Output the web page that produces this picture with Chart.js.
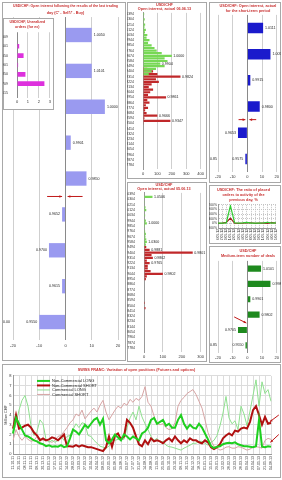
<!DOCTYPE html>
<html>
<head>
<meta charset="utf-8">
<script src="https://cdn.jsdelivr.net/npm/chart.js@4.4.0/dist/chart.umd.min.js"></script>
<style>
  body { margin: 0; background: #fff; }
  #page { position: relative; width: 282px; height: 480px; overflow: hidden; background: #fff; }
  .box { position: absolute; box-sizing: border-box; border: 1px solid #a8a8a8; background: #fff; }
  canvas { position: absolute; }
</style>
</head>
<body>
<div id="page">
  <div class="box" style="left:2px;top:2px;width:124px;height:359px"></div>
  <div class="box" style="left:127px;top:2px;width:80px;height:177px"></div>
  <div class="box" style="left:127px;top:182px;width:80px;height:180px"></div>
  <div class="box" style="left:209px;top:2px;width:72px;height:181px"></div>
  <div class="box" style="left:209px;top:185px;width:72px;height:59px"></div>
  <div class="box" style="left:209px;top:246px;width:72px;height:117px"></div>
  <div class="box" style="left:2px;top:364px;width:279px;height:114px"></div>
  <canvas id="p1" width="123" height="359" style="left:2px;top:2px"></canvas>
  <div class="box" style="left:3px;top:18px;width:51px;height:92px"></div>
  <canvas id="inset" width="50" height="92" style="left:3px;top:18px"></canvas>
  <canvas id="p2" width="79" height="176" style="left:127px;top:2px"></canvas>
  <canvas id="p3" width="79" height="180" style="left:127px;top:182px"></canvas>
  <canvas id="p4" width="72" height="180" style="left:209px;top:2px"></canvas>
  <canvas id="p5" width="72" height="58" style="left:209px;top:185px"></canvas>
  <canvas id="p6" width="72" height="117" style="left:209px;top:246px"></canvas>
  <canvas id="p7" width="278" height="114" style="left:2px;top:364px"></canvas>
</div>
<script>
// --- data ---
const p1Levels = ['1.0050', '1.0101', '1.0000', '0.9901', '0.9850', '0.9652', '0.9700', '0.9615', '0.9550']
const p1Values = [10, 10, 15, 2, 8, -1.3, -6.3, -1.3, -10]

const insetLevels = ['1.0009', '1.0101', '1.0050', '0.9901', '0.9850', '0.9709', '0.9615']
const insetValues = [0, 0.2, 0.6, 0.1, 0.77, 2.5, 0]

const priceGrid = ['1.0394', '1.0349', '1.0304', '1.0259', '1.0214', '1.0169', '1.0124', '1.0079', '1.0034', '0.9989',
    '0.9944', '0.9899', '0.9854', '0.9809', '0.9764', '0.9719', '0.9674', '0.9629', '0.9584', '0.9539',
    '0.9494', '0.9449', '0.9404', '0.9359', '0.9314', '0.9269', '0.9224', '0.9179', '0.9134', '0.9089',
    '0.9044', '0.8999', '0.8954', '0.8909', '0.8864', '0.8819', '0.8774', '0.8729', '0.8684', '0.8639',
    '0.8594', '0.8549', '0.8504', '0.8459', '0.8414', '0.8369', '0.8324', '0.8279', '0.8234', '0.8189',
    '0.8144', '0.8099', '0.8054', '0.8009', '0.7964', '0.7919', '0.7874', '0.7829', '0.7784', '0.7739']

const p2Buy = [8, 5, 12, 6, 15, 10, 20, 14, 30, 25, 45, 35, 60, 80, 95, 130, 200, 150, 170, 120,
    150, 90, 60, 40, 0, 0, 0, 0, 0, 0, 0, 0, 0, 0, 0, 0, 0, 0, 0, 0,
    0, 0, 0, 0, 0, 0, 0, 0, 0, 0, 0, 0, 0, 0, 0, 0, 0, 0, 0, 0]
const p2Sell = [0, 0, 0, 0, 0, 0, 0, 0, 0, 0, 0, 0, 0, 0, 0, 0, 0, 0, 0, 0,
    0, 30, 70, 100, 260, 90, 110, 60, 40, 70, 50, 35, 160, 30, 45, 20, 35, 15, 25, 100,
    10, 190, 5, 0, 0, 0, 0, 0, 0, 0, 0, 0, 0, 0, 0, 0, 0, 0, 0, 0]
const p2Notes = [[16, '1.0000'], [19, '0.9904'], [24, '0.9824'], [32, '0.9861'], [39, '0.9666'], [41, '0.9347']]

const p3Buy = [0, 45, 0, 4, 0, 8, 12, 0, 6, 0, 10, 15, 5, 0, 6, 10, 8, 12, 15, 10,
    0, 0, 0, 0, 0, 0, 0, 0, 0, 0, 0, 0, 0, 0, 0, 0, 0, 0, 0, 0,
    0, 0, 0, 0, 0, 0, 0, 0, 0, 0, 0, 0, 0, 0, 0, 0, 0, 0, 0, 0]
const p3Sell = [0, 0, 0, 0, 0, 0, 0, 0, 0, 0, 0, 0, 0, 0, 0, 0, 0, 0, 0, 0,
    12, 30, 258, 40, 47, 15, 30, 20, 20, 35, 100, 15, 10, 0, 0, 0, 0, 0, 0, 0,
    0, 5, 0, 8, 0, 0, 0, 0, 0, 0, 0, 0, 0, 0, 0, 0, 0, 0, 0, 0]
const p3Notes = [[1, '1.0506'], [11, '1.0000'], [18, '1.0300'], [21, '0.9881'], [22, '0.9801'], [24, '0.9862'], [26, '0.9765'], [30, '0.9802']]

const p4Levels = ['1.0111', '1.0050', '0.9915', '0.9800', '0.9653', '0.9575']
const p4Values = [10.7, 15.7, 2, 8.4, -6.4, -1.4]

const p5Days = ['16.05.13', '17.05.13', '20.05.13', '21.05.13', '22.05.13', '23.05.13', '24.05.13', '27.05.13',
    '28.05.13', '29.05.13', '30.05.13', '31.05.13', '03.06.13', '04.06.13', '05.06.13']
const p5Placed = [20, 10, 30, 1150, 40, 20, 30, 60, 10, 20, 10, 30, 70, 20, 30]
const p5Previous = [0, 10, 60, 340, 20, 0, 10, 30, 40, 0, 10, 20, 0, 50, 10]

const p6Levels = ['1.0101', '0.9981', '0.9901', '0.9802', '0.9705', '0.9550']
const p6Values = [9.3, 15.7, 2, 8.3, -6.4, -1.3]

const cotDates = ['11.10.11', '18.10.11', '25.10.11', '01.11.11', '08.11.11', '15.11.11', '22.11.11', '29.11.11', '06.12.11', '13.12.11',
    '20.12.11', '27.12.11', '03.01.12', '10.01.12', '17.01.12', '24.01.12', '31.01.12', '07.02.12', '14.02.12', '21.02.12',
    '28.02.12', '06.03.12', '13.03.12', '20.03.12', '27.03.12', '03.04.12', '10.04.12', '17.04.12', '24.04.12', '01.05.12',
    '08.05.12', '15.05.12', '22.05.12', '29.05.12', '05.06.12', '12.06.12', '19.06.12', '26.06.12', '03.07.12', '10.07.12',
    '17.07.12', '24.07.12', '31.07.12', '07.08.12', '14.08.12', '21.08.12', '28.08.12', '04.09.12', '11.09.12', '18.09.12',
    '25.09.12', '02.10.12', '09.10.12', '16.10.12', '23.10.12', '30.10.12', '06.11.12', '13.11.12', '20.11.12', '27.11.12',
    '04.12.12', '11.12.12', '18.12.12', '25.12.12', '01.01.13', '08.01.13', '15.01.13', '22.01.13', '29.01.13', '05.02.13',
    '12.02.13', '19.02.13', '26.02.13', '05.03.13', '12.03.13', '19.03.13', '26.03.13', '02.04.13', '09.04.13', '16.04.13',
    '23.04.13', '30.04.13', '07.05.13', '14.05.13', '21.05.13', '28.05.13', '04.06.13']
const nonCommLong = [2.1, 3.7, 3.1, 2.5, 1.9, 1.8, 1.6, 1.4, 1.3, 1.1,
    1.0, 0.8, 0.9, 0.75, 0.8, 0.75, 0.9, 0.7, 0.8, 1.6,
    2.5, 2.3, 2.0, 2.5, 3.0, 2.7, 3.1, 3.5, 3.7, 3.0,
    3.6, 1.4, 1.1, 1.5, 2.0, 1.7, 1.4, 2.0, 1.8, 1.5,
    1.8, 1.6, 1.4, 2.1, 2.3, 2.7, 3.5, 3.7, 3.1, 3.3,
    3.5, 2.9, 3.1, 2.7, 2.7, 3.5, 4.0, 3.1, 2.6, 3.0,
    2.7, 2.6, 3.1, 2.7, 2.1, 1.5, 0.8, 0.6, 0.75, 0.8,
    1.0, 1.1, 1.15, 1.1, 1.2, 1.0, 0.9, 0.8, 0.8, 0.75,
    0.7, 0.8, 3.5, 0.75, 0.7, 0.8, 0.75]
const nonCommShort = [2.6, 4.0, 2.6, 2.7, 2.9, 3.0, 2.7, 2.2, 1.9, 1.4,
    1.6, 1.4, 1.5, 1.7, 1.6, 1.4, 1.7, 2.0, 0.8, 0.8,
    0.75, 0.9, 0.75, 0.9, 0.8, 0.7, 0.7, 0.6, 0.5, 0.4,
    0.3, 0.7, 1.8, 0.75, 1.9, 2.1, 1.5, 1.8, 3.5, 3.2,
    2.7, 1.8, 1.0, 0.8, 1.4, 1.0, 1.6, 1.3, 1.4, 1.3,
    1.1, 1.4, 1.6, 1.3, 1.8, 1.4, 1.1, 1.4, 1.2, 1.6,
    1.4, 1.4, 1.2, 1.1, 1.4, 1.2, 0.7, 0.5, 0.7, 1.0,
    1.6, 1.9, 2.1, 1.9, 2.4, 2.3, 2.6, 2.7, 2.6, 3.3,
    4.5, 4.9, 4.0, 3.0, 3.8, 3.1, 3.2]
const commLong = [2.1, 3.1, 4.5, 5.5, 6.0, 4.9, 2.9, 1.9, 2.3, 3.5,
    3.1, 1.5, 1.2, 1.4, 1.2, 1.4, 1.8, 1.4, 1.8, 1.9,
    2.5, 3.1, 2.7, 3.2, 3.1, 1.9, 1.8, 1.4, 1.1, 0.8,
    0.7, 0.6, 0.8, 1.4, 1.4, 1.5, 1.6, 1.5, 2.7, 3.7,
    4.3, 3.5, 4.9, 3.8, 3.1, 2.5, 1.8, 1.4, 1.6, 1.2,
    1.3, 0.9, 0.75, 0.7, 0.6, 0.5, 0.4, 0.6, 0.75, 0.9,
    1.1, 1.1, 1.3, 1.3, 1.1, 0.9, 1.2, 1.4, 1.9, 2.9,
    4.2, 5.9, 3.7, 3.1, 3.4, 2.5, 4.9, 4.1, 2.9, 4.4,
    6.0, 7.6, 4.9, 7.4, 6.2, 6.6, 5.4]
const commShort = [1.4, 2.5, 1.8, 1.4, 1.8, 1.5, 1.3, 1.4, 1.8, 1.6,
    1.4, 1.4, 1.3, 1.2, 1.4, 1.8, 1.9, 2.3, 2.7, 3.2,
    3.5, 4.1, 3.9, 4.5, 3.6, 4.0, 4.4, 4.7, 4.3, 5.0,
    5.5, 4.3, 3.5, 4.0, 4.5, 4.9, 4.7, 5.2, 5.0, 5.6,
    5.3, 5.7, 5.5, 5.9, 6.9, 5.3, 4.9, 3.9, 3.1, 3.0,
    3.1, 2.7, 2.5, 2.6, 3.2, 4.9, 5.5, 5.8, 6.2, 6.4,
    6.6, 6.1, 5.4, 4.7, 3.5, 2.2, 1.4, 0.8, 0.6, 0.4,
    0.5, 0.7, 0.75, 0.6, 0.6, 0.75, 0.7, 0.55, 0.4, 0.5,
    0.7, 0.75, 0.7, 0.6, 1.4, 1.6, 1.5]

// --- common look ---
const FONT = '"Liberation Sans", Arial, sans-serif'
const TITLE_RED = '#c83030'
Chart.defaults.font.family = FONT
Chart.defaults.font.size = 4
Chart.defaults.color = '#333'
Chart.defaults.animation = false
Chart.defaults.responsive = false
Chart.defaults.devicePixelRatio = 1
Chart.defaults.plugins.legend.display = false
Chart.defaults.plugins.tooltip.enabled = false

const zeroGrid = c => (c.tick && c.tick.value === 0) ? '#8a8a8a' : '#cfcfcf'

function arrow(ctx, x0, y0, x1, y1) {
    const a = Math.atan2(y1 - y0, x1 - x0), h = 3
    ctx.beginPath(); ctx.moveTo(x0, y0); ctx.lineTo(x1, y1); ctx.stroke()
    ctx.beginPath(); ctx.moveTo(x1, y1)
    ctx.lineTo(x1 - h * Math.cos(a - 0.45), y1 - h * Math.sin(a - 0.45))
    ctx.lineTo(x1 - h * Math.cos(a + 0.45), y1 - h * Math.sin(a + 0.45))
    ctx.closePath(); ctx.fill()
}

// price labels next to bars, red arrows
const barNotes = {
    id: 'barNotes',
    afterDraw(chart, args, opts) {
        const ctx = chart.ctx
        ctx.save()
        ctx.font = '3.6px ' + FONT
        ctx.fillStyle = '#222'
        ctx.textBaseline = 'middle'
        if (opts.labels) {
            chart.getDatasetMeta(0).data.forEach((bar, i) => {
                const v = chart.data.datasets[0].data[i]
                ctx.textAlign = v < 0 ? 'right' : 'left'
                ctx.fillText(chart.data.labels[i], bar.x + (v < 0 ? -2 : 2), bar.y)
            })
        }
        (opts.notes || []).forEach(([row, text]) => {
            let x = chart.chartArea.left, y = 0
            chart.data.datasets.forEach((d, k) => {
                const bar = chart.getDatasetMeta(k).data[row]
                if (bar.x > x) x = bar.x
                y = bar.y
            })
            ctx.textAlign = 'left'
            ctx.fillText(text, x + 1.5, y)
        })
        if (opts.edge) {
            const bars = chart.getDatasetMeta(0).data
            ctx.textAlign = 'left'
            ctx.fillText(opts.edge, 1, bars[bars.length - 1].y)
        }
        ctx.strokeStyle = '#c01818'
        ctx.fillStyle = '#c01818'
        ctx.lineWidth = 1
        const sx = chart.scales.x, sy = chart.scales.y;
        (opts.arrows || []).forEach(a => {
            arrow(ctx, sx.getPixelForValue(a.x0), sy.getPixelForValue(a.y0), sx.getPixelForValue(a.x1), sy.getPixelForValue(a.y1))
        })
        ctx.restore()
    }
}

// legend drawn inside the plot, top left
const lineLegend = {
    id: 'lineLegend',
    afterDraw(chart, args, opts) {
        if (!opts.show) return
        const {ctx, chartArea} = chart
        ctx.save()
        ctx.font = '4px ' + FONT
        ctx.textBaseline = 'middle'
        ctx.textAlign = 'left'
        ctx.fillStyle = '#222'
        chart.data.datasets.forEach((d, i) => {
            const x = chartArea.left + opts.left
            const y = chartArea.top + opts.top + i * opts.step
            ctx.strokeStyle = d.borderColor
            ctx.lineWidth = d.borderWidth
            ctx.beginPath(); ctx.moveTo(x, y); ctx.lineTo(x + 13, y); ctx.stroke()
            ctx.fillText(d.label, x + 15, y)
        })
        ctx.restore()
    }
}

function levelBars(id, titleText, levels, values, colour, s, notes) {
    return new Chart(document.getElementById(id), {
        type: 'bar',
        data: {
            labels: levels,
            datasets: [{data: values, backgroundColor: colour, barPercentage: 0.4, categoryPercentage: 1}]
        },
        options: {
            indexAxis: 'y',
            layout: {padding: s.layout},
            plugins: {
                title: {display: true, text: titleText, color: TITLE_RED, font: {size: 3.8, lineHeight: s.line}, padding: s.titlePad},
                barNotes: notes
            },
            scales: {
                x: {
                    min: -20, max: 20,
                    ticks: {stepSize: 10, padding: s.tickPad},
                    grid: {color: zeroGrid, drawTicks: false},
                    border: {display: false},
                    afterFit: a => { a.height = s.axisH }
                },
                y: {display: false}
            }
        },
        plugins: [barNotes]
    })
}

levelBars('p1', ['USD/CHF: Open interest following the results of the last trading', 'day (C\u207A - Sell\u207A/\u207B - Buy)'],
    p1Levels, p1Values, '#9a9af0',
    {layout: {left: 11, right: 7, top: 0, bottom: 14}, line: 1.85, titlePad: {top: 0, bottom: 1}, tickPad: 3, axisH: 7},
    {labels: true, edge: '0.00', arrows: [{x0: -7, y0: 4.5, x1: -1.3, y1: 4.5}, {x0: 6.5, y0: 4.5, x1: 0.8, y1: 4.5}]})

levelBars('p4', ['USD/CHF: Open interest, actual', 'for the short-term period'],
    p4Levels, p4Values, '#1a1acc',
    {layout: {left: 9, right: 3, top: 0, bottom: 4}, line: 1.3, titlePad: {top: 1.5, bottom: 1.5}, tickPad: 2, axisH: 6},
    {labels: true, edge: '0.85', arrows: [{x0: -6, y0: 3.5, x1: -1.4, y1: 3.5}, {x0: 6, y0: 3.5, x1: 1.4, y1: 3.5}]})

levelBars('p6', ['USD/CHF', 'Medium-term number of deals'],
    p6Levels, p6Values, '#1e8a1e',
    {layout: {left: 9, right: 3, top: 0, bottom: 4}, line: 1.3, titlePad: {top: 2.5, bottom: 2.5}, tickPad: 2, axisH: 6},
    {labels: true, edge: '0.85', arrows: [{x0: -9, y0: 3.15, x1: -0.7, y1: 3.55}]})

// inset: unrealized orders
new Chart(document.getElementById('inset'), {
    type: 'bar',
    data: {labels: insetLevels, datasets: [{data: insetValues, backgroundColor: '#dd30dd', barPercentage: 0.5, categoryPercentage: 1}]},
    options: {
        indexAxis: 'y',
        layout: {padding: {left: 0, right: 1.5, top: 0, bottom: 5.3}},
        plugins: {
            title: {display: true, text: ['USD/CHF, Unrealized', 'orders (for ex)'], color: TITLE_RED, font: {size: 3.6, lineHeight: 1.38}, padding: {top: 1.5, bottom: 2.8}}
        },
        scales: {
            x: {min: 0, max: 3, ticks: {stepSize: 1, padding: 2}, grid: {color: zeroGrid, drawTicks: false}, border: {display: false}, afterFit: a => { a.height = 7 }},
            y: {ticks: {font: {size: 3.6}, padding: 1}, grid: {display: false}, border: {display: false}, afterFit: a => { a.width = 14 }}
        }
    }
})

// open interest by price level
function priceLadder(id, titleText, buy, sell, max, s, notes) {
    return new Chart(document.getElementById(id), {
        type: 'bar',
        data: {
            labels: priceGrid,
            datasets: [
                {data: buy, backgroundColor: '#77d855', grouped: false, barPercentage: 0.85, categoryPercentage: 1},
                {data: sell, backgroundColor: '#c0282a', grouped: false, barPercentage: 0.85, categoryPercentage: 1}
            ]
        },
        options: {
            indexAxis: 'y',
            layout: {padding: s.layout},
            plugins: {
                title: {display: true, text: titleText, color: TITLE_RED, font: {size: 3.8, lineHeight: 1.3}, padding: {top: 0, bottom: 1}},
                barNotes: {notes: notes}
            },
            scales: {
                x: {
                    min: 0, max: max,
                    ticks: {stepSize: 100, padding: 2},
                    grid: {color: zeroGrid, drawTicks: false},
                    border: {display: false},
                    afterFit: a => { a.height = 6 }
                },
                y: {
                    ticks: {autoSkip: false, padding: 1, font: {size: 3.5}, callback: (v, i) => i % 2 === 0 ? priceGrid[i] : ''},
                    grid: {display: false},
                    border: {color: '#999'},
                    afterFit: a => { a.width = s.axisW }
                }
            }
        },
        plugins: [barNotes]
    })
}

priceLadder('p2', ['USD/CHF', 'Open interest, actual 06.06.13'], p2Buy, p2Sell, 400,
    {layout: {left: 0, right: 4, top: 0, bottom: 3}, axisW: 16}, p2Notes)
priceLadder('p3', ['USD/CHF', 'Open interest, actual 05.06.13'], p3Buy, p3Sell, 300,
    {layout: {left: 0, right: 5, top: 0, bottom: 4}, axisW: 17}, p3Notes)

// ratio of placed orders
new Chart(document.getElementById('p5'), {
    type: 'line',
    data: {
        labels: p5Days,
        datasets: [
            {data: p5Placed, borderColor: '#2fcc2f', borderWidth: 1.2, pointRadius: 0},
            {data: p5Previous, borderColor: '#a02020', borderWidth: 1.2, pointRadius: 0}
        ]
    },
    options: {
        layout: {padding: {left: 0, right: 3, top: 0, bottom: 3}},
        plugins: {
            title: {display: true, text: ['USD/CHF: The ratio of placed', 'orders to activity of the', 'previous day, %'], color: TITLE_RED, font: {size: 3.8, lineHeight: 1.3}, padding: {top: 2.5, bottom: 2.5}}
        },
        scales: {
            x: {
                ticks: {autoSkip: false, minRotation: 90, maxRotation: 90, padding: 1, font: {size: 3.4}},
                grid: {color: '#c4c4c4', drawTicks: false},
                border: {dash: [1, 1], color: '#999'},
                afterFit: a => { a.height = 12 }
            },
            y: {
                min: -300, max: 1200,
                ticks: {stepSize: 300, autoSkip: false, padding: 1, font: {size: 3.4}, callback: v => v + '%'},
                grid: {color: '#c4c4c4', drawTicks: false},
                border: {dash: [1, 1], color: '#999'},
                afterFit: a => { a.width = 9 }
            }
        }
    }
})

// COT positions
new Chart(document.getElementById('p7'), {
    type: 'line',
    data: {
        labels: cotDates,
        datasets: [
            {label: 'Non-Commercial LONG', data: nonCommLong, borderColor: '#1fcf1f', borderWidth: 2, pointRadius: 0},
            {label: 'Non-Commercial SHORT', data: nonCommShort, borderColor: '#b01010', borderWidth: 2, pointRadius: 0},
            {label: 'Commercial LONG', data: commLong, borderColor: '#8fe08f', borderWidth: 1, pointRadius: 0},
            {label: 'Commercial SHORT', data: commShort, borderColor: '#d6a4a4', borderWidth: 1, pointRadius: 0}
        ]
    },
    options: {
        layout: {padding: {left: 0, right: 9, top: 0, bottom: 5}},
        plugins: {
            title: {display: true, text: 'SWISS FRANC: Variation of open positions (Futures and options)', color: TITLE_RED, font: {size: 3.8, lineHeight: 1.3}, padding: {top: 3.5, bottom: 3.5}},
            lineLegend: {show: true, left: 24, top: 5, step: 4.5},
            barNotes: {arrows: [{x0: 88.6, y0: 4.0, x1: 85.6, y1: 3.3}, {x0: 88.6, y0: 2.0, x1: 85.8, y1: 1.2}]}
        },
        scales: {
            x: {
                ticks: {autoSkip: false, minRotation: 90, maxRotation: 90, padding: 2, font: {size: 3.6}, callback: (v, i) => i % 2 === 0 ? cotDates[i] : ''},
                grid: {color: c => c.index % 2 === 0 ? '#dcdcdc' : 'rgba(0,0,0,0)', drawTicks: false},
                border: {color: '#999'},
                afterFit: a => { a.height = 19 }
            },
            y: {
                min: 0, max: 8,
                ticks: {stepSize: 1, padding: 1.5},
                title: {display: true, text: 'Million CHF', font: {size: 3.8}, padding: {top: 2, bottom: 0}},
                grid: {color: '#dcdcdc', drawTicks: false},
                border: {color: '#999'},
                afterFit: a => { a.width = 11 }
            }
        }
    },
    plugins: [lineLegend, barNotes]
})
</script>
</body>
</html>
